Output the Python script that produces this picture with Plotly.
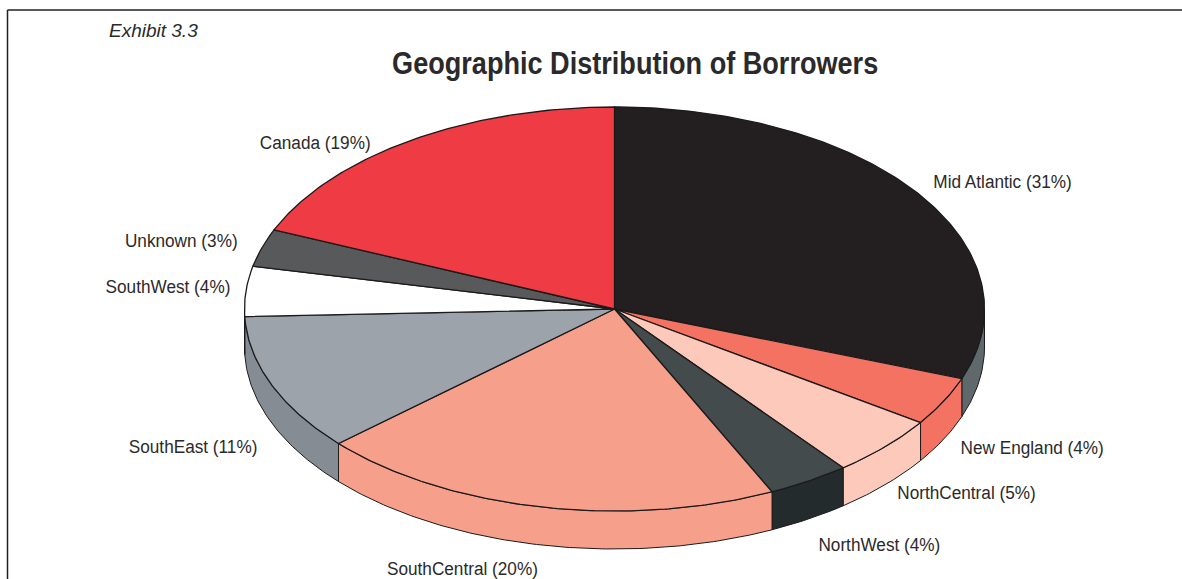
import numpy as np
import plotly.graph_objects as go

categories = ["Mid Atlantic", "New England", "NorthCentral", "NorthWest", "SouthCentral",
              "SouthEast", "SouthWest", "Unknown", "Canada"]
shares = [30.6, 3.9, 4.9, 3.6, 20.4, 11.0, 4.0, 3.0, 18.6]
labels = ["Mid Atlantic (31%)", "New England (4%)", "NorthCentral (5%)", "NorthWest (4%)",
          "SouthCentral (20%)", "SouthEast (11%)", "SouthWest (4%)", "Unknown (3%)", "Canada (19%)"]
top_colors = ["#231f20", "#f47262", "#fcc9ba", "#434b4d", "#f69f8b",
              "#9ca3aa", "#ffffff", "#58595b", "#ef3b43"]
wall_colors = ["#5f686b", "#f47262", "#fcc9ba", "#232b2c", "#f69f8b",
               "#858c94", "#ffffff", "#58595b", "#ef3b43"]
label_x = [1002.5, 1031.5, 966.5, 879.5, 462.5, 193, 168, 181.5, 315]
label_y = [181.5, 447.5, 492.5, 544.5, 568, 446.5, 286.5, 240.5, 142.5]

CX, CY, RX, RY, DEPTH = 614.5, 309.0, 370.0, 202.0, 38.0
EDGE = "#1c1a1b"
TEXT = "#2b292a"
FONT = "Liberation Sans, Arial, sans-serif"

fractions = np.array(shares) / np.sum(shares)
edges = np.concatenate([[0.0], np.cumsum(fractions)]) * 2 * np.pi


def arc(a0, a1, dy=0.0):
    t = np.linspace(a0, a1, max(2, int((a1 - a0) * 90)))
    return CX + RX * np.sin(t), CY - RY * np.cos(t) + dy


fig = go.Figure()

for i, name in enumerate(categories):
    a0, a1 = max(edges[i], np.pi / 2), min(edges[i + 1], 3 * np.pi / 2)
    if a1 <= a0:
        continue
    xt, yt = arc(a0, a1)
    xb, yb = arc(a0, a1, DEPTH)
    fig.add_trace(go.Scatter(
        x=np.concatenate([xt, xb[::-1], xt[:1]]), y=np.concatenate([yt, yb[::-1], yt[:1]]),
        mode="lines", fill="toself", fillcolor=wall_colors[i],
        line=dict(color=EDGE, width=1), name=name, hoverinfo="name", showlegend=False))

for i, name in enumerate(categories):
    xt, yt = arc(edges[i], edges[i + 1])
    fig.add_trace(go.Scatter(
        x=np.concatenate([[CX], xt, [CX]]), y=np.concatenate([[CY], yt, [CY]]),
        mode="lines", fill="toself", fillcolor=top_colors[i],
        line=dict(color=EDGE, width=1.3), name=name, hoverinfo="name", showlegend=False))

annotations = [
    dict(x=x, y=y, text=t, xanchor="center", yanchor="middle", showarrow=False,
         font=dict(family=FONT, size=19, color=TEXT))
    for x, y, t in zip(label_x, label_y, labels)
]
annotations += [
    dict(x=635, y=63, text="<b>Geographic Distribution of Borrowers</b>", xanchor="center",
         yanchor="middle", showarrow=False, font=dict(family=FONT, size=31, color=TEXT)),
    dict(x=153.5, y=30, text="<i>Exhibit 3.3</i>", xanchor="center", yanchor="middle",
         showarrow=False, font=dict(family=FONT, size=19, color=TEXT)),
]

fig.update_layout(
    width=1182, height=579, autosize=False,
    margin=dict(l=0, r=0, t=0, b=0),
    paper_bgcolor="#ffffff", plot_bgcolor="#ffffff",
    xaxis=dict(range=[0, 1182], visible=False, fixedrange=True),
    yaxis=dict(range=[579, 0], visible=False, fixedrange=True),
    annotations=annotations,
    shapes=[
        dict(type="line", x0=7.5, x1=1182, y0=10, y1=10, line=dict(color="#231f20", width=1.5)),
        dict(type="line", x0=7.5, x1=7.5, y0=10, y1=579, line=dict(color="#231f20", width=1.5)),
    ],
)

# The reference face is condensed and no condensed font is installed: squeeze the real text.
POST = """
document.body.style.margin = '0';
document.documentElement.style.overflow = 'hidden';
document.querySelectorAll('.annotation-text').forEach(function (el) {
  var s = el.textContent;
  var k = s.indexOf('Exhibit') === 0 ? 1.0 : (s.indexOf('Geographic') === 0 ? 0.874 : 0.905);
  var b = el.getBBox();
  var c = b.x + b.width / 2;
  el.setAttribute('transform', 'translate(' + c + ',0) scale(' + k + ',1) translate(' + (-c) + ',0)');
});
"""

fig.write_html("out.html", config=dict(displayModeBar=False), post_script=POST)
